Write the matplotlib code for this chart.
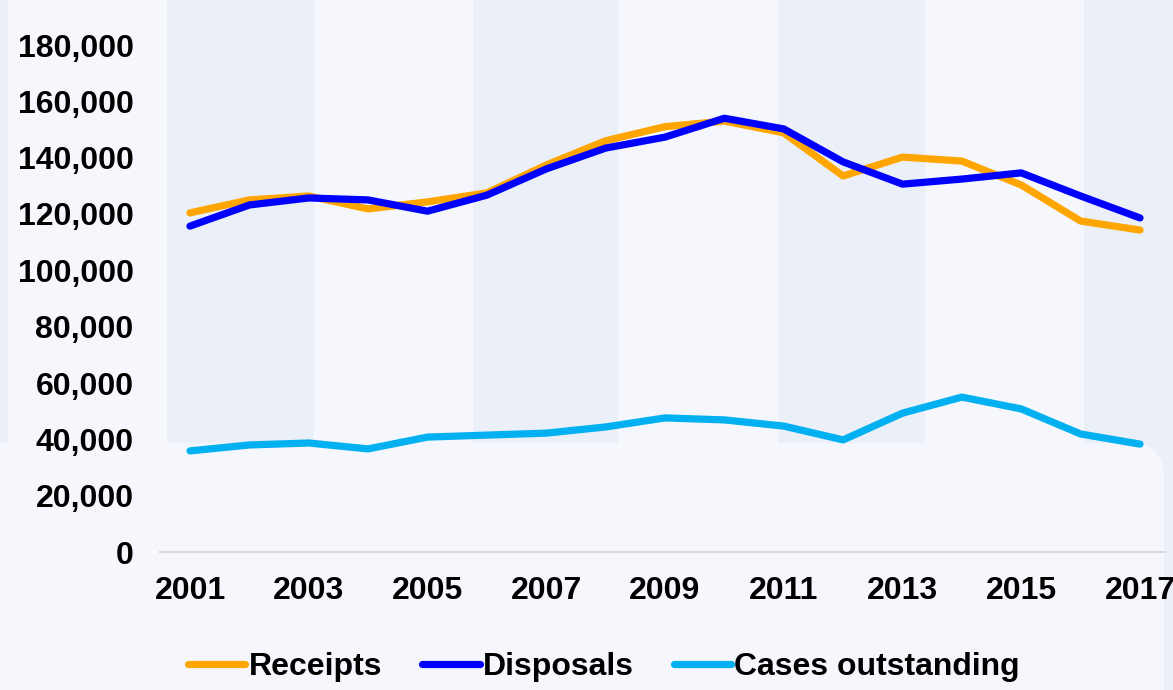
import numpy as np
import matplotlib
matplotlib.use("Agg")
import matplotlib.pyplot as plt
from matplotlib.patches import Rectangle, FancyBboxPatch
from matplotlib.transforms import IdentityTransform
from matplotlib.ticker import FuncFormatter

plt.rcParams['font.family'] = ['Liberation Sans', 'DejaVu Sans']
plt.rcParams['font.weight'] = 'bold'

years = list(range(2001, 2018))
receipts = [120400, 125000, 126400, 121800, 124300, 127500, 137400, 146000, 151000,
            153000, 148800, 133500, 140200, 138800, 130300, 117500, 114300]
disposals = [115700, 123200, 125700, 125000, 121000, 126700, 136000, 143400, 147300,
             154000, 150200, 138500, 130600, 132400, 134600, 126400, 118600]
outstanding = [35900, 38000, 38700, 36600, 40800, 41500, 42200, 44400, 47600,
               46900, 44700, 39800, 49300, 55000, 50800, 41900, 38300]
series_names = ['Receipts', 'Disposals', 'Cases outstanding']
series_colors = ['#FFA500', '#0000FF', '#00B0F0']
x_ticks = list(range(2001, 2018, 2))
y_ticks = list(range(0, 180001, 20000))

W, H = 1173, 690
fs = 23
fig = plt.figure(figsize=(W / 100, H / 100), dpi=100)
fig.patch.set_facecolor('#F5F7FC')

# decorative background: vertical bands + rounded panel at the bottom
for x0, x1 in [(0, 8), (167, 314), (473, 618), (778, 925), (1084, 1173)]:
    fig.add_artist(Rectangle((x0, 0), x1 - x0, H, transform=IdentityTransform(),
                             facecolor='#EBF0F8', edgecolor='none', zorder=-10))
fig.add_artist(FancyBboxPatch((-100, -100), 1164 - 35 + 100, H - 443 + 100 - 35,
                              boxstyle='round,pad=35', transform=IdentityTransform(),
                              facecolor='#F5F7FC', edgecolor='none', zorder=-9))

ax = fig.add_axes([160 / W, 1 - 552 / H, (1165 - 160) / W, (552 - 45) / H])
ax.set_facecolor('none')

for vals, name, col in zip([receipts, disposals, outstanding], series_names, series_colors):
    ax.plot(years, vals, color=col, lw=5.2, solid_capstyle='round', label=name)

ax.set_xlim(2001 - 30 / 59.375, 2017 + 25 / 59.375)
ax.set_ylim(0, 180000)
ax.set_xticks(x_ticks)
ax.set_yticks(y_ticks)
ax.yaxis.set_major_formatter(FuncFormatter(lambda v, p: f'{int(v):,}'))
ax.tick_params(axis='both', length=0, labelsize=fs)
ax.tick_params(axis='y', pad=19)
ax.tick_params(axis='x', pad=17)
for lab in ax.get_xticklabels() + ax.get_yticklabels():
    lab.set_fontweight('bold')
for s in ['top', 'right', 'left']:
    ax.spines[s].set_visible(False)
ax.spines['bottom'].set_color('#D9D9D9')
ax.spines['bottom'].set_linewidth(1.5)

leg = fig.legend(loc='center', bbox_to_anchor=(604 / W, 1 - 667 / H), ncol=3,
                 frameon=False, handlelength=1.8, handletextpad=0.1,
                 columnspacing=1.25, prop={'weight': 'bold', 'size': fs})

fig.savefig('out.png', dpi=100, facecolor=fig.get_facecolor())
